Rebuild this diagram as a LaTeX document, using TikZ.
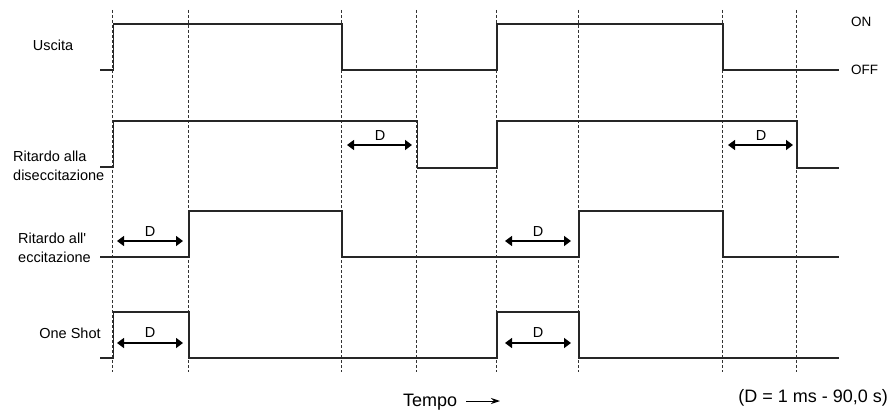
\documentclass[tikz,border=0pt]{standalone}
\usepackage{fontspec}
\setmainfont{Liberation Sans}[Ligatures=TeXOff]
\usetikzlibrary{arrows.meta}
\begin{document}
\begin{tikzpicture}[x=1pt,y=-1pt,
  sig/.style={line width=1.4pt, color=black!85, line join=miter},
  gridline/.style={dash pattern=on 3pt off 2pt, line width=0.8pt, color=black!80},
  dur/.style={{Triangle[length=7pt,width=10pt]}-{Triangle[length=7pt,width=10pt]}, line width=1.4pt},
  lbl/.style={font=\fontsize{14.5}{18.5}\selectfont, inner sep=0pt},
  dlbl/.style={font=\fontsize{14.5}{17}\selectfont, inner sep=0pt},
  big/.style={font=\fontsize{18}{20}\selectfont, inner sep=0pt}]
\useasboundingbox (0,0) rectangle (890,409);
% vertical dashed grid
\foreach \x in {112,188,341,416,496,578,722,796}
  \draw[gridline] (\x,10) -- (\x,372);
% signals
\draw[sig] (100,70) -- (113.5,70) -- (113.5,24) -- (342,24) -- (342,70) -- (497,70) -- (497,24) -- (723,24) -- (723,70) -- (839,70);
\draw[sig] (100,167) -- (113.5,167) -- (113.5,121) -- (417.5,121) -- (417.5,168) -- (497,168) -- (497,121) -- (797,121) -- (797,168) -- (839,168);
\draw[sig] (100,257) -- (189,257) -- (189,211) -- (342,211) -- (342,257) -- (579,257) -- (579,211) -- (723,211) -- (723,257) -- (839,257);
\draw[sig] (100,358) -- (113.5,358) -- (113.5,312) -- (189,312) -- (189,358) -- (497,358) -- (497,312) -- (579,312) -- (579,358) -- (839,358);
% duration arrows
\coordinate (a1l) at (347,145); \coordinate (a1r) at (412,145);
\coordinate (a2l) at (728,145); \coordinate (a2r) at (793,145);
\coordinate (a3l) at (117,241); \coordinate (a3r) at (183,241);
\coordinate (a4l) at (505,241); \coordinate (a4r) at (571,241);
\coordinate (a5l) at (117,343); \coordinate (a5r) at (183,343);
\coordinate (a6l) at (505,343); \coordinate (a6r) at (571,343);
\foreach \i in {1,...,6} \draw[dur] (a\i l) -- (a\i r);
\node[dlbl] (d1) at (380,136) {D};
\node[dlbl] (d2) at (761,136) {D};
\node[dlbl] (d3) at (150,232) {D};
\node[dlbl] (d4) at (538,232) {D};
\node[dlbl] (d5) at (150,333) {D};
\node[dlbl] (d6) at (538,333) {D};
% labels
\node[lbl] (usc) at (53,45) {Uscita};
\node[lbl, anchor=west, align=left] (dis) at (13,166) {Ritardo alla\\diseccitazione};
\node[lbl, anchor=west, align=left] (ecc) at (18,248) {Ritardo all'\\eccitazione};
\node[lbl] (one) at (70,333) {One Shot};
\node[lbl, font=\fontsize{13.5}{16}\selectfont, anchor=west] (on) at (851,22) {ON};
\node[lbl, font=\fontsize{13.5}{16}\selectfont, anchor=west] (off) at (851,70) {OFF};
\node[big, anchor=west] (tempo) at (403,402) {Tempo};
\coordinate (tarr) at (500,401);
\draw[line width=1pt, -{Stealth[length=9pt,width=6pt]}] (466,401) -- (tarr);
\node[big, anchor=east] (range) at (888,398) {(D = 1 ms - 90,0 s)};
\end{tikzpicture}
\end{document}
